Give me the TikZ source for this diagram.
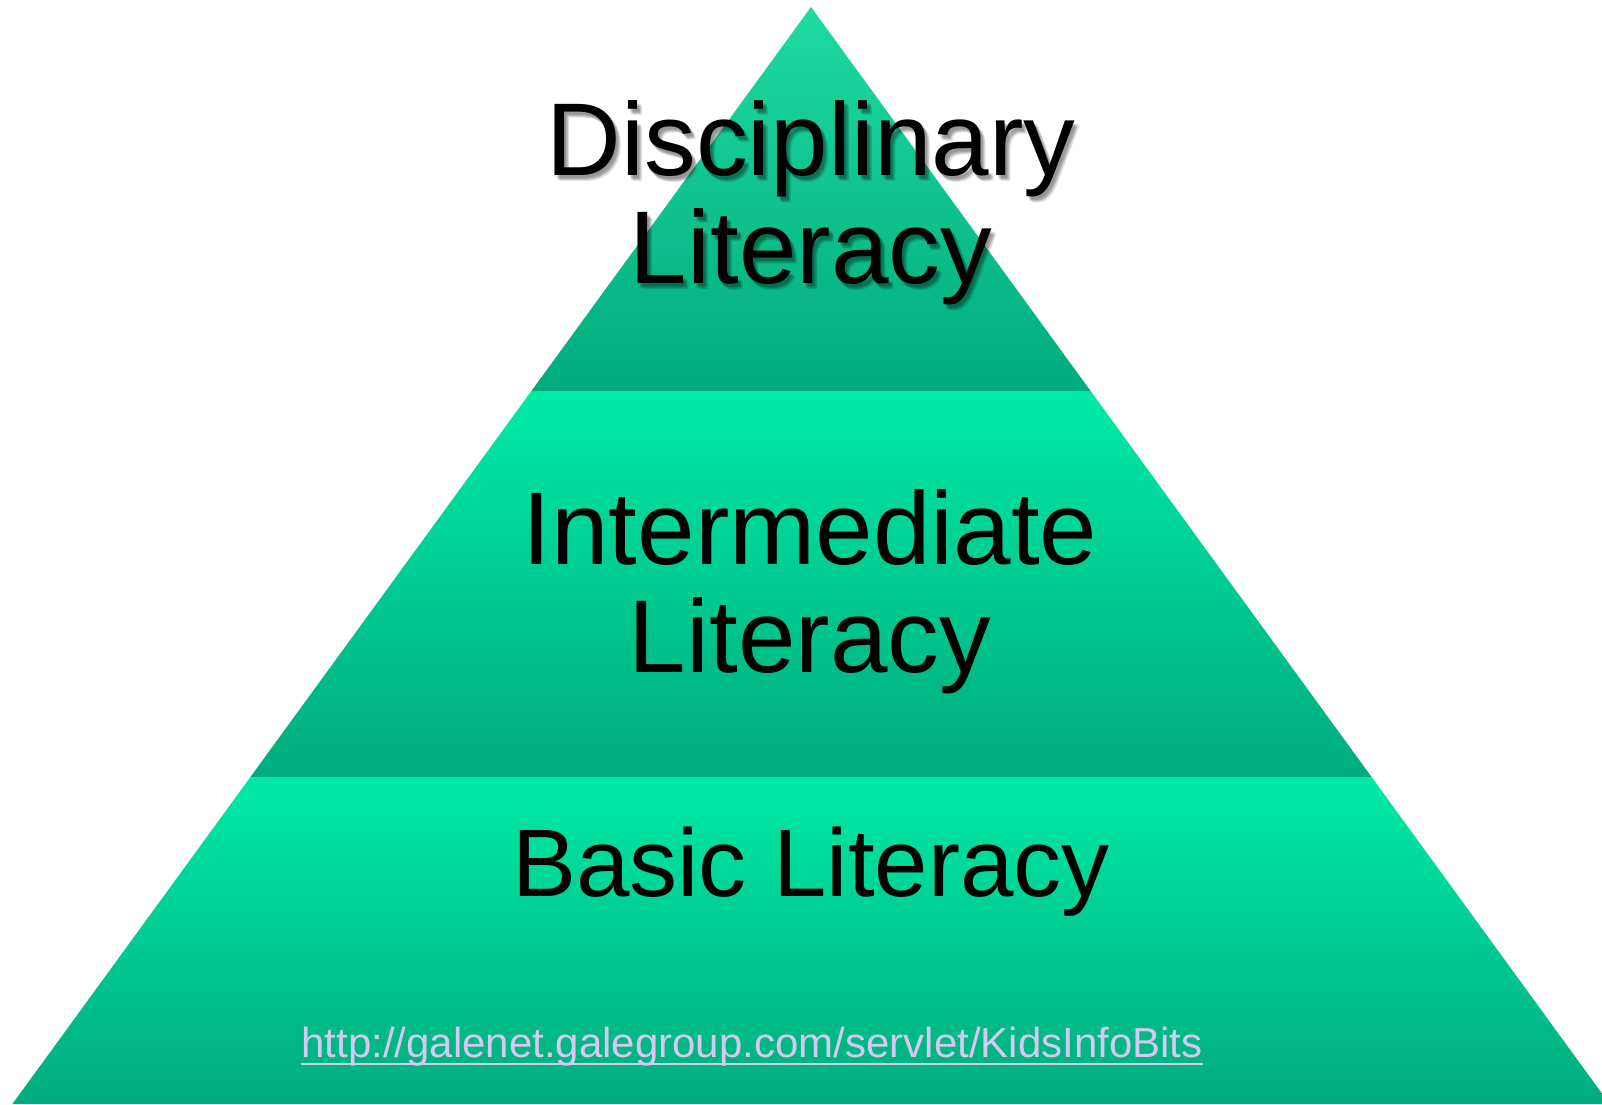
\documentclass[tikz,border=0pt]{standalone}
\usepackage{fontspec}
\setmainfont{Liberation Sans}
\usetikzlibrary{calc}

\definecolor{bandtop}{RGB}{0,234,166}
\definecolor{bandbot}{RGB}{0,172,125}
\definecolor{peaktop}{RGB}{30,218,160}
\definecolor{linkcol}{RGB}{214,200,240}

\begin{document}
\begin{tikzpicture}[x=0.5pt,y=-0.5pt,
    level/.style={top color=bandtop,bottom color=bandbot},
    lbl/.style={align=center,inner sep=0pt,font=\fontsize{51.7}{54}\selectfont},
    ghost/.style={lbl,text=black,text opacity=0.12}]

  \useasboundingbox (0,0) rectangle (1602,1104);
  \clip (0,0) rectangle (1602,1104);

  % corners of the pyramid
  \coordinate (apex) at (811,7);
  \coordinate (l1) at (531.4,391);
  \coordinate (r1) at (1090.6,391);
  \coordinate (l2) at (250.4,777);
  \coordinate (r2) at (1371.6,777);
  \coordinate (l3) at (12.4,1104);
  \coordinate (r3) at (1609.6,1104);

  % the three bands
  \shade[level,top color=peaktop] (l1) -- (apex) -- (r1) -- cycle;
  \shade[level] (l2) -- (l1) -- (r1) -- (r2) -- cycle;
  \shade[level] (l3) -- (l2) -- (r2) -- (r3) -- cycle;

  % soft shadow behind the top label
  \foreach \dx/\dy in {2/3,3/5,4/4,5/6}
    \node[ghost,anchor=base] at (811+\dx,283+\dy) {Disciplinary\\Literacy};

  % the texts (base = last line)
  \node[lbl,anchor=base] (disc) at (811,283) {Disciplinary\\Literacy};
  \node[lbl,anchor=base] (inter) at (810,672) {Intermediate\\Literacy};
  \node[lbl,anchor=base,font=\fontsize{48}{54}\selectfont] (basic) at (811,896)
    {Basic Literacy};

  \node[anchor=base west,inner sep=0pt,text=linkcol,
    font=\fontsize{21}{24}\selectfont] (url) at (301,1057)
    {http://galenet.galegroup.com/servlet/KidsInfoBits};
  \draw[linkcol,line width=1pt] ($(url.base west)+(0,7)$) --
    ($(url.base east)+(0,7)$);
\end{tikzpicture}
\end{document}
